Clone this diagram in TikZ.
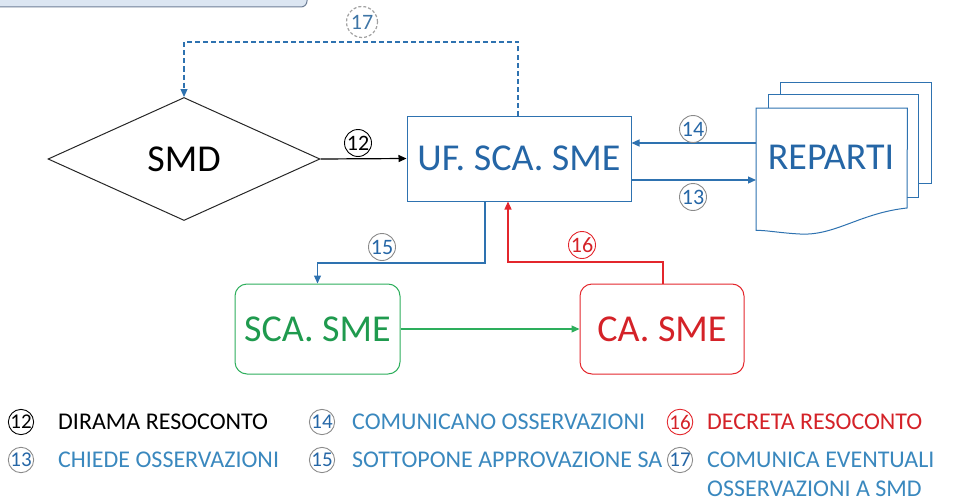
\documentclass[tikz,border=0pt]{standalone}
\usepackage{fontspec}
\setmainfont{Carlito}
\usetikzlibrary{shapes.geometric,arrows.meta,calc}
\definecolor{lnblue}{HTML}{2E72B0}
\definecolor{txblue}{HTML}{2566A6}
\definecolor{lgblue}{HTML}{3A88BE}
\definecolor{cgray}{HTML}{8A8A8A}
\definecolor{gtext}{HTML}{1F9A4E}
\definecolor{gline}{HTML}{2DAE5C}
\definecolor{rtext}{HTML}{D42228}
\definecolor{rline}{HTML}{E3262C}
\definecolor{tlfill}{HTML}{DCE6F2}
\definecolor{tlline}{HTML}{6F7F96}
\tikzset{
  tip/.style={-{Triangle[length=8pt,width=7pt]}},
  big/.style={font=\fontsize{38}{42}\selectfont},
  num/.style={circle,draw=cgray,line width=0.9pt,inner sep=0pt,minimum size=27pt,font=\fontsize{22}{23}\selectfont,text=txblue},
  lnum/.style={circle,draw=cgray,line width=0.9pt,inner sep=0pt,minimum size=23pt,font=\fontsize{21}{22}\selectfont,text=txblue},
  leg/.style={anchor=west,inner sep=0pt,font=\fontsize{24}{27}\selectfont},
  rbox/.style={rounded corners=12pt,line width=1pt,minimum width=165pt,minimum height=90pt,big}
}
\begin{document}
\begin{tikzpicture}[x=1pt,y=-1pt]
\useasboundingbox (0,0) rectangle (965,503);
% partial box at top-left
\draw[fill=tlfill,draw=tlline,line width=1pt,rounded corners=6pt] (-20,-20) rectangle (307,7);

% nodes
\node[diamond,draw=black!85,line width=1pt,aspect=2.2,inner sep=0pt,minimum width=272pt,minimum height=123pt,big] (smd) at (184,159) {SMD};
\node[draw=lnblue,line width=1pt,minimum width=224pt,minimum height=85pt,text=txblue,big] (uf) at (519,158.5) {UF. SCA. SME};
\node[rbox,draw=gline,text=gtext] (sca) at (317.5,329) {SCA. SME};
\node[rbox,draw=rline,text=rtext,minimum width=164pt] (ca) at (662,329) {CA. SME};

% REPARTI multi-document
\node[minimum width=151pt,minimum height=122pt,inner sep=0pt,anchor=north west] (rep) at (756,108) {};
\draw[lnblue,line width=1pt,fill=white] (780,183) -- (780,82) -- (931,82) -- (931,183) -- cycle;
\draw[lnblue,line width=1pt,fill=white] (768,197) -- (768,94) -- (918,94) -- (918,197) -- cycle;
\draw[lnblue,line width=1pt,fill=white] (rep.south west) -- (rep.north west) -- (rep.north east) -- (907,208)
  .. controls (860,213) and (835,236) .. (800,234) .. controls (780,233) and (765,230) .. (rep.south west) -- cycle;
\node[text=txblue,big] (reptxt) at (831,157) {REPARTI};

% helper coordinates
\coordinate (y14) at (0,143);
\coordinate (y13) at (0,180);
\coordinate (k17) at (518,42);
\coordinate (k15) at (485,263);
\coordinate (k16a) at (663,262);
\coordinate (k16b) at (508,262);

% connectors
\draw[tip,black,line width=1.2pt] (smd.east) -- (uf.west);
\draw[tip,lnblue,line width=1.2pt] (rep.west |- y14) -- (uf.east |- y14);
\draw[tip,lnblue,line width=1.2pt] (uf.east |- y13) -- (rep.west |- y13);
\draw[tip,lnblue,line width=1.2pt,dashed,dash pattern=on 5pt off 3pt] (uf.north -| k17) -- (k17) -| (smd.north);
\draw[tip,lnblue,line width=1.2pt] (uf.south -| k15) -- (k15) -| (sca.north);
\draw[tip,rline,line width=1.2pt] (ca.north -| k16a) -- (k16a) -| (uf.south -| k16b);
\draw[tip,gline,line width=1.2pt] (sca.east) -- (ca.west);

% connector labels
\node[num,draw=black,text=black] (n12) at (358,143) {12};
\node[num] (n14) at (693,129) {14};
\node[num] (n13) at (693,197) {13};
\node[num] (n15) at (382,247) {15};
\node[num,draw=rline,text=rtext] (n16) at (582,245) {16};
\node[num,dashed,dash pattern=on 3pt off 2pt,line width=1.2pt,draw=cgray!80,minimum size=31pt,text=lnblue!80!gray] (n17) at (362,22) {17};

% legend
\node[lnum,draw=black,text=black] (g12) at (21,422) {12};
\node[leg,text=black] (t12) at (58,422) {DIRAMA RESOCONTO};
\node[lnum] (g13) at (21,460) {13};
\node[leg,text=lgblue] (t13) at (58,460) {CHIEDE OSSERVAZIONI};
\node[lnum] (g14) at (322,422) {14};
\node[leg,text=lgblue] (t14) at (352,422) {COMUNICANO OSSERVAZIONI};
\node[lnum] (g15) at (322,460) {15};
\node[leg,text=lgblue] (t15) at (352,460) {SOTTOPONE APPROVAZIONE SA};
\node[lnum,draw=rline,text=rtext] (g16) at (680,422) {16};
\node[leg,text=rtext] (t16) at (707,422) {DECRETA RESOCONTO};
\node[lnum] (g17) at (680,460) {17};
\node[leg,text=lgblue] (t17) at (707,460) {COMUNICA EVENTUALI};
\node[leg,text=lgblue] (t17b) at (707,489) {OSSERVAZIONI A SMD};
\end{tikzpicture}
\end{document}
